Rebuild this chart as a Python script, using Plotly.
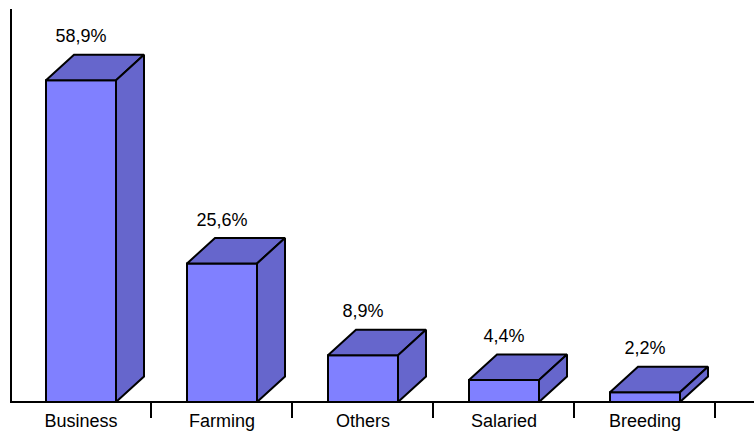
import plotly.graph_objects as go

categories = ["Business", "Farming", "Others", "Salaried", "Breeding"]
values = [58.9, 25.6, 8.9, 4.4, 2.2]
labels = ["58,9%", "25,6%", "8,9%", "4,4%", "2,2%"]

FRONT = "#8080FF"
SHADE = "#6666CC"
W, H = 754, 433
LEFT, TOP, BOTTOM = 12, 9, 32
FONT = dict(family="Liberation Sans, Arial, sans-serif", size=18, color="#000000")

X_UNIT = 141.0          # px per category
Y_UNIT = 5.5            # px per percent
X0_PX = 81.0            # px centre of first category
Y0_PX = 404.3           # px of value 0
BASE_PX = 402.0         # px of the bars' foot
HALF = 35.0 / X_UNIT
DX = 28.0 / X_UNIT
DY = 25.5 / Y_UNIT
LABEL_GAP = 17.0 / Y_UNIT

x_range = [(LEFT - X0_PX) / X_UNIT, (W - X0_PX) / X_UNIT]
x2_range = [x_range[0] + 0.2 / X_UNIT, x_range[1] + 0.2 / X_UNIT]
y_low = (Y0_PX - (H - BOTTOM)) / Y_UNIT
y_high = (Y0_PX - TOP) / Y_UNIT
base = (Y0_PX - BASE_PX) / Y_UNIT

fig = go.Figure()


def face(xs, ys, color):
    fig.add_trace(go.Scatter(
        x=xs, y=ys, mode="lines", fill="toself", fillcolor=color,
        line=dict(color="#000000", width=2, shape="linear"),
        hoverinfo="skip", showlegend=False, cliponaxis=False,
    ))


for i, v in enumerate(values):
    l, r = i - HALF, i + HALF
    face([l, r, r, l, l], [base, base, v, v, base], FRONT)
    face([l, r, r + DX, l + DX, l], [v, v, v + DY, v + DY, v], SHADE)
    face([r, r + DX, r + DX, r, r], [base, base + DY, v + DY, v, base], SHADE)

fig.add_trace(go.Scatter(
    x=list(range(len(categories))),
    y=[v + DY + LABEL_GAP for v in values],
    mode="text", text=labels, textposition="middle center",
    textfont=FONT, hoverinfo="skip", showlegend=False, cliponaxis=False,
))
# invisible trace tying the boundary ticks axis to the figure
fig.add_trace(go.Scatter(
    x=[i + 0.5 for i in range(len(categories))], y=[y_low] * len(categories),
    xaxis="x2", mode="markers", marker=dict(opacity=0), hoverinfo="skip", showlegend=False,
))

fig.update_layout(
    width=W, height=H, autosize=False,
    margin=dict(l=LEFT, r=0, t=TOP, b=BOTTOM, pad=0),
    paper_bgcolor="#FFFFFF", plot_bgcolor="#FFFFFF",
    font=FONT,
    xaxis=dict(
        range=x_range, tickmode="array",
        tickvals=list(range(len(categories))), ticktext=categories,
        ticks="", showgrid=False, zeroline=False,
        showline=True, linecolor="#000000", linewidth=2,
        tickfont=FONT, ticklabelstandoff=2,
    ),
    xaxis2=dict(
        range=x2_range, overlaying="x", side="bottom", anchor="y",
        tickmode="array", tickvals=[i + 0.5 for i in range(len(categories))],
        ticktext=[""] * len(categories), ticks="outside", ticklen=16,
        tickwidth=2, tickcolor="#000000", showgrid=False, zeroline=False, showline=False,
    ),
    yaxis=dict(
        range=[y_low, y_high], showgrid=False, zeroline=False,
        showticklabels=False, ticks="",
        showline=True, linecolor="#000000", linewidth=2,
    ),
)

fig.write_html("out.html", config={"displayModeBar": False},
               post_script="document.body.style.margin='0';")
